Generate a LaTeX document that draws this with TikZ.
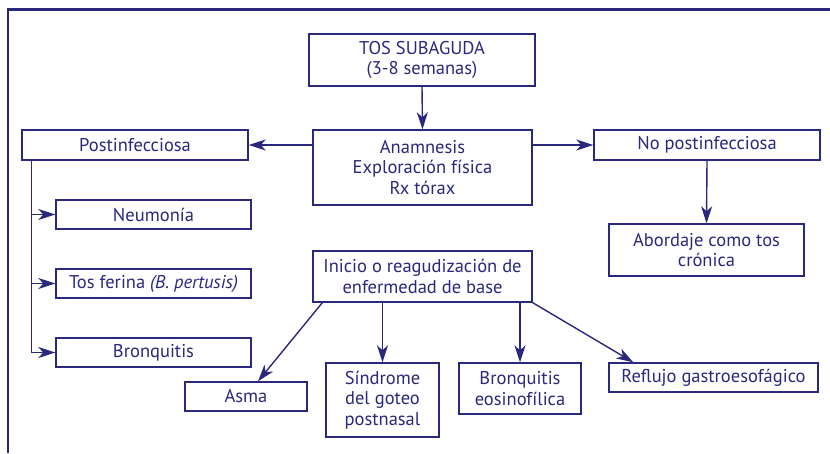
\documentclass[tikz,border=0pt]{standalone}
\usepackage{fontspec}
\setmainfont{PT Sans}
\usetikzlibrary{arrows.meta,calc}
\definecolor{navy}{RGB}{42,40,124}

\begin{document}
\begin{tikzpicture}[
    x=1pt, y=-1pt,
    box/.style={draw=navy, line width=1.4pt, text=navy, align=center, inner sep=0pt,
                font=\fontsize{18.5}{20.5}\selectfont},
    arr/.style={draw=navy, line width=1.4pt, -{Stealth[length=17pt, width=11pt, inset=5pt]}},
    link/.style={draw=navy, line width=1.4pt},
    frame/.style={draw=navy, line width=2.6pt},
]
\useasboundingbox (0,0) rectangle (830,453);

% Frame (top and left only)
\draw[frame] (8,453) -- (8,9.5) -- (830,9.5);

% Top of the chart
\node[box, minimum width=226pt, minimum height=52pt] (tos) at (422,60) {TOS SUBAGUDA\\(3-8 semanas)};
\node[box, minimum width=219pt, minimum height=75pt] (anam) at (422.5,167.5) {Anamnesis\\Exploración física\\Rx tórax};
\node[box, minimum width=226pt, minimum height=30pt] (post) at (135,145) {Postinfecciosa};
\node[box, minimum width=226pt, minimum height=30pt] (nopost) at (707,145) {No postinfecciosa};
\node[box, minimum width=195pt, minimum height=52pt] (abord) at (706.5,250) {Abordaje como tos\\crónica};

% Postinfectious branch
\node[box, minimum width=195pt, minimum height=29pt] (neum) at (153.5,214.5) {Neumonía};
\node[box, minimum width=195pt, minimum height=29pt] (tosf) at (153.5,283.5) {Tos ferina \textit{(B. pertusis)}};
\node[box, minimum width=195pt, minimum height=29pt] (bronq) at (153.5,352.5) {Bronquitis};

% Underlying disease branch
\node[box, minimum width=219pt, minimum height=51pt] (inicio) at (422.5,276.5) {Inicio o reagudización de\\enfermedad de base};
\node[box, minimum width=122pt, minimum height=29pt] (asma) at (246,396.5) {Asma};
\node[box, minimum width=113pt, minimum height=74pt] (sind) at (382.5,400) {Síndrome\\del goteo\\postnasal};
\node[box, minimum width=122pt, minimum height=51pt] (beos) at (520,388.5) {Bronquitis\\eosinofílica};
\node[box, minimum width=209pt, minimum height=29pt] (refl) at (713.5,377.5) {Reflujo gastroesofágico};

% Connectors
\draw[arr] (tos.south) -- (anam.north);
\draw[arr] (post.east -| anam.west) -- (post.east);
\draw[arr] (nopost.west -| anam.east) -- (nopost.west);
\draw[arr] (nopost.south) -- (abord.north);

\coordinate (trunk) at ($(post.south west)+(10,0)$);
\draw[link] (trunk) -- (trunk |- bronq.west);
\draw[arr] (trunk |- neum.west) -- (neum.west);
\draw[arr] (trunk |- tosf.west) -- (tosf.west);
\draw[arr] (trunk |- bronq.west) -- (bronq.west);

\draw[arr] ($(inicio.south west)+(10,0)$) -- ($(asma.north)+(12,0)$);
\draw[arr] (inicio.south -| sind.north) -- (sind.north);
\draw[arr] (inicio.south -| beos.north) -- (beos.north);
\draw[arr] (inicio.south east) -- ($(refl.north west)+(25,0)$);

\end{tikzpicture}
\end{document}
